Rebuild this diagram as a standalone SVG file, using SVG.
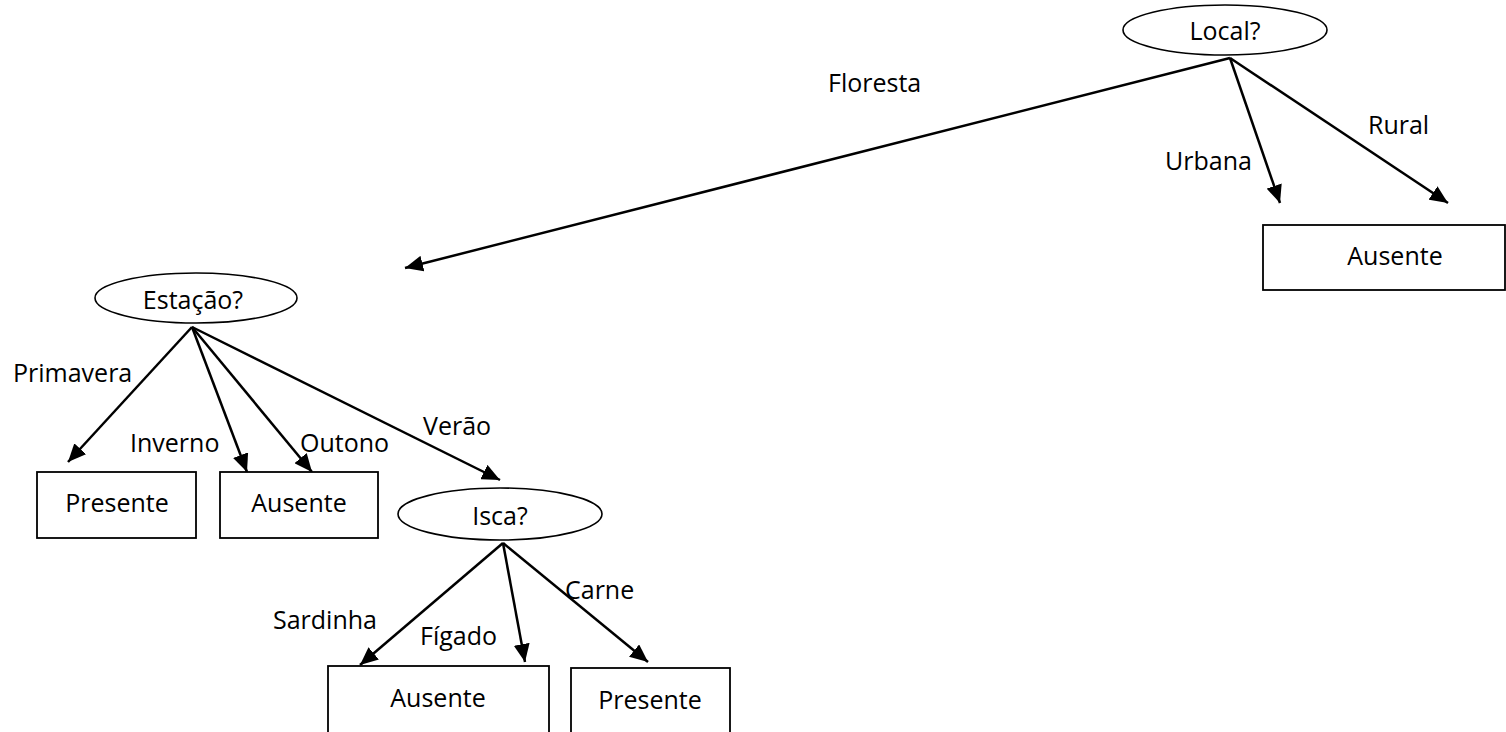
<svg xmlns="http://www.w3.org/2000/svg" width="1506" height="732" viewBox="0 0 1506 732">
  <defs>
    <marker id="arrow" markerUnits="userSpaceOnUse" markerWidth="20" markerHeight="16" refX="18" refY="8" orient="auto">
      <path d="M0,0 L18,8 L0,16 Z" fill="#000"/>
    </marker>
    <style>
      .decision ellipse { fill: #fff; stroke: #000; stroke-width: 1.6; }
      .leaf rect { fill: #fff; stroke: #000; stroke-width: 1.8; }
      text { font-family: "Open Sans", "Noto Sans", sans-serif; font-size: 25px; fill: #000; }
      .node text { text-anchor: middle; }
      .edge line { stroke: #000; stroke-width: 2.5; marker-end: url(#arrow); }
    </style>
  </defs>
  <rect width="1506" height="732" fill="#fff"/>

  <!-- connectors -->
  <g id="connectors" class="edge">
    <line x1="1230" y1="58" x2="405" y2="268"/>
    <line x1="1230" y1="58" x2="1280" y2="203"/>
    <line x1="1230" y1="58" x2="1448" y2="203"/>
    <line x1="192" y1="327" x2="68" y2="462"/>
    <line x1="192" y1="327" x2="247" y2="472"/>
    <line x1="192" y1="327" x2="312" y2="472"/>
    <line x1="192" y1="327" x2="500" y2="480"/>
    <line x1="503" y1="543" x2="360" y2="665"/>
    <line x1="503" y1="543" x2="525" y2="662"/>
    <line x1="503" y1="543" x2="648" y2="662"/>
  </g>

  <!-- edge labels -->
  <g id="edge-labels">
    <text x="828" y="92">Floresta</text>
    <text x="1165" y="170">Urbana</text>
    <text x="1368" y="134">Rural</text>
    <text x="13" y="382">Primavera</text>
    <text x="130" y="452">Inverno</text>
    <text x="300" y="452">Outono</text>
    <text x="423" y="435">Verão</text>
    <text x="273" y="629">Sardinha</text>
    <text x="420" y="645">Fígado</text>
    <text x="565" y="599">Carne</text>
  </g>

  <!-- decision nodes -->
  <g id="node-local" class="node decision">
    <ellipse cx="1225" cy="30" rx="102" ry="25"/>
    <text x="1225" y="40">Local?</text>
  </g>
  <g id="node-estacao" class="node decision">
    <ellipse cx="196" cy="298" rx="101" ry="25"/>
    <text x="193" y="309">Estação?</text>
  </g>
  <g id="node-isca" class="node decision">
    <ellipse cx="500" cy="514" rx="102" ry="26"/>
    <text x="500" y="525">Isca?</text>
  </g>

  <!-- leaf nodes -->
  <g id="leaf-ausente-local" class="node leaf">
    <rect x="1263" y="225" width="242" height="65"/>
    <text x="1395" y="265">Ausente</text>
  </g>
  <g id="leaf-presente-estacao" class="node leaf">
    <rect x="37" y="472" width="159" height="66"/>
    <text x="117" y="512">Presente</text>
  </g>
  <g id="leaf-ausente-estacao" class="node leaf">
    <rect x="220" y="472" width="158" height="66"/>
    <text x="299" y="512">Ausente</text>
  </g>
  <g id="leaf-ausente-isca" class="node leaf">
    <rect x="328" y="666" width="221" height="70"/>
    <text x="438" y="707">Ausente</text>
  </g>
  <g id="leaf-presente-isca" class="node leaf">
    <rect x="571" y="668" width="159" height="68"/>
    <text x="650" y="709">Presente</text>
  </g>
</svg>
